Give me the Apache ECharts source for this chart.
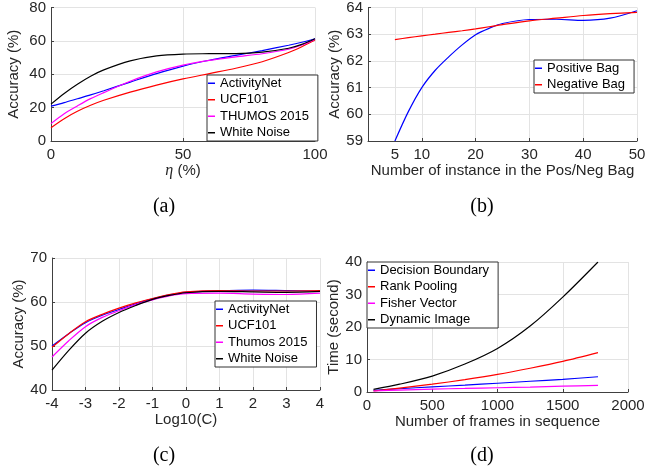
<!DOCTYPE html>
<html><head><meta charset="utf-8">
<script src="https://cdn.jsdelivr.net/npm/echarts@6/dist/echarts.min.js"></script>
<style>html,body{margin:0;padding:0;background:#fff}#c{width:652px;height:469px}</style>
</head><body><div id="c"></div><script>
// ---- Panel (a): accuracy vs eta ----
const etaX = [0, 5, 10, 15, 20, 30, 40, 50, 60, 70, 80, 90, 95, 100];
const aActivityNet = [20.9, 23.0, 25.3, 27.6, 30.1, 35.3, 40.4, 44.9, 48.4, 51.3, 54.2, 57.4, 59.2, 61.3];
const aUCF101 = [8.0, 13.4, 17.8, 21.4, 24.4, 29.3, 33.5, 37.2, 40.4, 43.6, 47.5, 53.0, 56.5, 60.5];
const aTHUMOS = [10.4, 16.3, 21.0, 25.4, 29.0, 35.8, 41.4, 45.5, 48.3, 50.4, 52.3, 55.0, 57.5, 61.0];
const aNoise = [22.1, 28.5, 34.0, 38.8, 42.6, 48.0, 51.0, 52.1, 52.3, 52.4, 53.3, 55.6, 57.9, 61.3];
const aNames = ['ActivityNet', 'UCF101', 'THUMOS 2015', 'White Noise'];

// ---- Panel (b): accuracy vs bag size ----
const bagX = [5, 7.5, 10, 12.5, 15, 17.5, 20, 22.5, 25, 30, 35, 40, 45, 50];
const bPositive = [59.0, 60.1, 61.0, 61.65, 62.15, 62.6, 62.98, 63.22, 63.4, 63.55, 63.56, 63.52, 63.6, 63.88];
const bNegative = [62.8, 62.87, 62.94, 63.0, 63.07, 63.13, 63.2, 63.28, 63.36, 63.5, 63.6, 63.7, 63.77, 63.82];
const bNames = ['Positive Bag', 'Negative Bag'];
const bTicks = [5, 10, 20, 30, 40, 50];

// ---- Panel (c): accuracy vs log10(C) ----
const logCX = [-4, -3.5, -3, -2.5, -2, -1.5, -1, -0.5, 0, 1, 2, 3, 4];
const cActivityNet = [50.0, 52.8, 55.3, 57.0, 58.3, 59.6, 60.7, 61.6, 62.2, 62.55, 62.7, 62.6, 62.5];
const cUCF101 = [49.7, 52.8, 55.5, 57.2, 58.6, 59.8, 60.8, 61.7, 62.3, 62.6, 62.5, 62.5, 62.6];
const cThumos = [47.5, 51.2, 54.4, 56.5, 58.0, 59.4, 60.5, 61.4, 61.9, 62.0, 61.8, 61.7, 62.0];
const cNoise = [44.5, 49.0, 52.9, 55.6, 57.6, 59.2, 60.6, 61.5, 62.1, 62.4, 62.3, 62.2, 62.4];
const cNames = ['ActivityNet', 'UCF101', 'Thumos 2015', 'White Noise'];

// ---- Panel (d): time vs number of frames ----
const framesX = [50, 250, 500, 750, 1000, 1250, 1500, 1770];
const dDecision = [0.5, 1.0, 1.6, 2.1, 2.7, 3.3, 3.9, 4.7];
const dRank = [0.3, 1.2, 2.4, 3.8, 5.4, 7.3, 9.4, 12.1];
const dFisher = [0.3, 0.6, 0.9, 1.1, 1.3, 1.5, 1.8, 2.05];
const dDynamic = [0.8, 2.4, 4.9, 8.6, 13.4, 20.3, 29.2, 40.0];
const dNames = ['Decision Boundary', 'Rank Pooling', 'Fisher Vector', 'Dynamic Image'];

const captions = ['(a)', '(b)', '(c)', '(d)'];
const colors4 = ['#0000ff', '#ff0000', '#ff00ff', '#000000'];

const AX = '#404040', GRID = '#e3e3e3', FONT = 'Liberation Sans, Arial, Helvetica, sans-serif';
const pairs = (xs, ys) => xs.map((x, i) => [x, ys[i]]);

function xAxis(idx, min, max, interval, name, gap, extra) {
  const ax = {
    type: 'value', gridIndex: idx, min, max, interval,
    name, nameLocation: 'middle', nameGap: gap,
    nameTextStyle: { fontFamily: FONT, fontSize: 15, color: '#262626' },
    axisLine: { onZero: false, lineStyle: { color: AX, width: 1 } },
    axisTick: { inside: true, length: 3, lineStyle: { color: AX } },
    axisLabel: { fontFamily: FONT, fontSize: 15, color: '#262626', margin: 6, showMinLabel: true, showMaxLabel: true,
      formatter: v => String(v) },
    splitLine: { show: true, lineStyle: { color: GRID, width: 1 } }
  };
  return Object.assign(ax, extra || {});
}
function yAxis(idx, min, max, interval, name, gap) {
  return {
    type: 'value', gridIndex: idx, min, max, interval,
    name, nameLocation: 'middle', nameGap: gap,
    nameTextStyle: { fontFamily: FONT, fontSize: 15, color: '#262626' },
    axisLine: { show: true, onZero: false, lineStyle: { color: AX, width: 1 } },
    axisTick: { show: true, inside: true, length: 3, lineStyle: { color: AX } },
    axisLabel: { fontFamily: FONT, fontSize: 15, color: '#262626', margin: 5, showMinLabel: true, showMaxLabel: true,
      formatter: v => String(v) },
    splitLine: { show: true, lineStyle: { color: GRID, width: 1 } }
  };
}
function line(name, idx, xs, ys, color) {
  return {
    type: 'line', name, xAxisIndex: idx, yAxisIndex: idx, data: pairs(xs, ys),
    showSymbol: false, smooth: 0.3, color,
    lineStyle: { color, width: 1.2 }, emphasis: { disabled: true }, z: 3
  };
}
function legend(names, left, top) {
  return {
    data: names, orient: 'vertical', left, top,
    icon: 'rect', itemWidth: 7, itemHeight: 1.5, itemGap: 0,
    padding: [0, 9, 0, 1],
    backgroundColor: '#ffffff', borderColor: '#333333', borderWidth: 1,
    textStyle: { fontFamily: FONT, fontSize: 13, color: '#000', lineHeight: 16.5 },
    selectedMode: false
  };
}

const option = {
  animation: false,
  backgroundColor: '#ffffff',
  grid: [
    { left: 51, top: 7, width: 264, height: 134 },
    { left: 368, top: 6, width: 269, height: 135 },
    { left: 52, top: 258, width: 268, height: 132 },
    { left: 367, top: 262, width: 261, height: 130 }
  ],
  xAxis: [
    xAxis(0, 0, 100, 50, '{i|η} (%)', 22, {
      nameTextStyle: { fontFamily: FONT, fontSize: 15, color: '#262626',
        rich: { i: { fontFamily: 'Liberation Serif, serif', fontStyle: 'italic', fontSize: 16, color: '#262626' } } }
    }),
    xAxis(1, 0, 50, 10, 'Number of instance in the Pos/Neg Bag', 21, {}),
    xAxis(2, -4, 4, 1, 'Log10(C)', 22),
    xAxis(3, 0, 2000, 500, 'Number of frames in sequence', 22)
  ],
  yAxis: [
    yAxis(0, 0, 80, 20, 'Accuracy (%)', 30),
    yAxis(1, 59, 64, 1, 'Accuracy (%)', 23),
    yAxis(2, 40, 70, 10, 'Accuracy (%)', 25),
    yAxis(3, 0, 40, 10, 'Time (second)', 24)
  ],
  legend: [
    legend(aNames, 207, 75),
    legend(bNames, 534, 60),
    legend(cNames, 215, 301),
    legend(dNames, 367, 262)
  ],
  series: [
    line(aNames[0], 0, etaX, aActivityNet, colors4[0]),
    line(aNames[1], 0, etaX, aUCF101, colors4[1]),
    line(aNames[2], 0, etaX, aTHUMOS, colors4[2]),
    line(aNames[3], 0, etaX, aNoise, colors4[3]),
    line(bNames[0], 1, bagX, bPositive, colors4[0]),
    line(bNames[1], 1, bagX, bNegative, colors4[1]),
    line(cNames[0], 2, logCX, cActivityNet, colors4[0]),
    line(cNames[1], 2, logCX, cUCF101, colors4[1]),
    line(cNames[2], 2, logCX, cThumos, colors4[2]),
    line(cNames[3], 2, logCX, cNoise, colors4[3]),
    line(dNames[0], 3, framesX, dDecision, colors4[0]),
    line(dNames[1], 3, framesX, dRank, colors4[1]),
    line(dNames[2], 3, framesX, dFisher, colors4[2]),
    line(dNames[3], 3, framesX, dDynamic, colors4[3])
  ],
  graphic: [
    [164, 207], [482, 207], [164, 456], [482, 456]
  ].map((p, i) => ({
    type: 'text', x: p[0], y: p[1],
    style: { text: captions[i], fontFamily: 'Liberation Serif, Times New Roman, serif', fontSize: 20,
      fill: '#000', textAlign: 'center', textVerticalAlign: 'middle' }
  }))
};
// panel (b): irregular tick labels 5,10,20,...; extra grid line at x = 5
option.xAxis[1].axisLabel.customValues = bTicks;
option.xAxis[1].axisTick.customValues = bTicks;
option.series[4].markLine = {
  silent: true, symbol: 'none', label: { show: false }, animation: false,
  lineStyle: { color: GRID, width: 1, type: 'solid' }, z: 1,
  data: [{ xAxis: bTicks[0] }]
};

const chart = echarts.init(document.getElementById('c'), null, { renderer: 'canvas' });
chart.setOption(option);
</script></body></html>
